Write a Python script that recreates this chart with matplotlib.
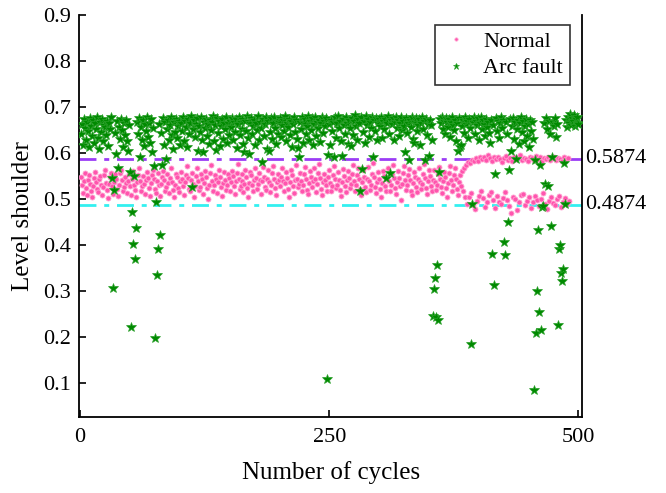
import matplotlib
matplotlib.use("Agg")
import matplotlib.pyplot as plt
import numpy as np

# ---- data (values in thousandths) ----
normal_1 = [547,531,512,538,556,524,509,541,552,533,518,505,528,546,559,537,521,514,543,549,
            530,508,526,551,562,535,519,502,532,548,556,527,511,536,553,544,522,506,529,557,
            563,540,516,525,547,534,513,538,555,528,
            509,543,560,531,520,504,537,551,566,539,517,527,549,532,511,541,558,546,523,507,
            534,552,563,544,521,513,538,556,529,506,533,548,561,540,518,526,553,535,512,545,
            566,537,520,503,530,554,547,524,515,539]
normal_2 = [558,542,527,509,536,551,571,545,522,516,540,557,533,505,528,549,568,538,519,526,
            553,542,511,535,560,547,523,500,531,556,573,539,517,529,552,544,513,537,562,548,
            525,507,534,558,541,520,530,555,546,518,
            536,561,549,527,510,539,557,575,543,521,528,554,538,514,532,563,547,524,503,535,
            559,551,529,517,541,566,545,522,533,556,540,511,538,570,548,526,519,543,562,537,
            515,531,557,572,544,523,508,536,553,541]
normal_3 = [527,548,568,539,516,534,559,546,521,505,537,562,551,528,513,540,574,544,525,532,
            556,538,517,529,553,569,543,520,511,535,561,548,526,539,566,542,514,533,557,575,
            546,522,509,537,555,540,529,518,547,563,
            535,516,528,552,571,544,523,530,558,541,519,507,536,564,549,527,514,540,560,545,
            524,533,555,573,538,517,529,551,566,542,521,509,537,562,547,526,515,543,570,539,
            520,531,554,577,548,525,512,536,559,544]
normal_4 = [522,505,534,561,549,528,518,542,567,538,516,530,553,574,545,524,511,537,560,546,
            527,498,533,556,571,541,519,529,552,565,540,517,508,535,558,548,526,514,543,568,
            537,521,532,555,576,545,523,510,539,562,
            549,528,516,541,563,536,519,531,554,570,544,525,512,538,559,547,524,503,534,557,
            572,540,518,529,551,566,543,521,509,537]
normal_upper = [552,561,568,574,580,577,585,582,589,583,591,586,590,584,595,588,582,590,586,592,
                587,581,589,594,585,588,583,591,586,590,596,584,589,587,582,591,588,585,593,587,
                590,583,589,586,592,584,588,591,585,589,587,583,590,586,588]
normal_lower = [528,517,504,489,503,512,486,478,495,507,518,501,483,492,509,514,498,480,506,493,
                488,502,515,497,484,470,505,499,476,494,508,511,487,496,503,481,492,506,498,485,
                500,513,489,478,495,504,491,486,499,507,483,494,502,488,496]

arc_1 = [641,662,618,673,655,629,668,647,612,676,659,636,671,622,664,651,679,633,608,667,
         645,674,626,661,657,639,670,615,664,652,677,546,305,520,643,598,669,568,656,631,
         674,649,612,666,638,672,625,604,660,558,
         222,472,402,550,369,436,668,642,675,592,657,629,671,614,663,648,678,635,666,621,
         673,601,654,571,196,494,335,391,662,422,644,574,676,618,667,586,652,672,627,661,
         679,639,609,668,646,674,632,658,670,616]
arc_2 = [665,648,677,626,669,657,612,673,641,666,680,525,652,671,634,663,675,603,659,645,
         678,629,601,668,655,674,637,662,619,672,649,667,681,625,660,606,676,643,669,614,
         658,673,631,665,651,679,622,664,638,670,
         656,676,628,668,645,673,611,662,679,639,667,652,674,620,602,670,647,681,633,598,
         664,676,642,658,671,616,666,650,680,627,668,655,580,673,636,662,677,609,669,603,
         646,675,631,664,679,653,619,670,641,667]
arc_3 = [676,634,661,672,648,680,625,666,657,674,639,669,613,663,678,645,671,630,610,591,
         668,652,677,621,664,673,640,659,681,628,670,649,675,617,662,678,636,667,655,672,
         624,665,679,643,669,658,676,108,596,663,
         616,672,647,668,590,677,633,664,681,655,670,626,594,674,661,642,679,666,619,671,
         653,615,676,638,669,683,658,629,673,664,516,677,565,645,670,622,680,660,673,635,
         667,654,678,592,671,648,676,627,665,673]
arc_4 = [659,677,633,669,652,674,546,666,680,641,556,671,662,675,628,668,679,655,672,637,
         666,677,649,670,658,601,675,643,664,585,672,656,679,631,622,668,676,647,661,673,
         618,666,678,652,670,585,674,638,663,593,
         671,660,627,246,303,327,242,357,237,558,674,665,679,652,670,641,676,668,657,673,
         634,667,678,661,649,672,625,666,603,675,612,618,658,671,644,677,663,669,632,674,
         655,185,488,667,679,640,670,660,675,628]
arc_5 = [666,677,651,671,662,637,674,657,668,643,622,672,380,661,313,554,676,648,669,633,
         664,678,655,671,407,378,667,640,449,562,673,603,659,676,631,668,587,652,672,619,
         664,677,645,669,626,658,673,637,662,613,
         671,648,667,630,83,585,208,299,433,254,574,215,483,485,664,532,675,652,527,670,
         641,440,591,668,659,676,634,663,226,391,400,338,321,347,578,488,672,657,679,666,
         684,661,675,669,682,658,673,665,677,662]

threshold_high = 0.5874
threshold_low = 0.4874
x_ticks = [0, 250, 500]
y_ticks = [0.1, 0.2, 0.3, 0.4, 0.5, 0.6, 0.7, 0.8, 0.9]

# ---- assemble ----
normal_tail = []
for u, l in zip(normal_upper, normal_lower):
    normal_tail += [u, l]
normal = np.array(normal_1 + normal_2 + normal_3 + normal_4 + normal_tail) / 1000.0
arc = np.array(arc_1 + arc_2 + arc_3 + arc_4 + arc_5) / 1000.0
xn = np.arange(1, len(normal) + 1)
xa = np.arange(1, len(arc) + 1)

plt.rcParams['font.family'] = ['Liberation Serif', 'DejaVu Serif']
plt.rcParams['mathtext.fontset'] = 'stix'

fig = plt.figure(figsize=(6.66, 4.93), dpi=100)
ax = fig.add_axes([0.1186, 0.154, 0.756, 0.8156])

ax.plot(xn, normal, linestyle='none', marker='o', markersize=3.6,
        markerfacecolor='#ff55ae', markeredgecolor='#ffa0d0', markeredgewidth=0.6,
        label='Normal', zorder=3)
ax.plot(xa, arc, linestyle='none', marker='*', markersize=7.0,
        markerfacecolor='#008a00', markeredgecolor='#2aa02a', markeredgewidth=0.5,
        label='Arc fault', zorder=4)

dash = (0, (6.1, 2.8, 1.8, 2.8))
ax.axhline(threshold_high, color='#9b3cf5', lw=2.0, linestyle=dash, zorder=2)
ax.axhline(threshold_low, color='#33f0f0', lw=2.0, linestyle=dash, zorder=2)

ax.text(1.005, threshold_high, f'{threshold_high:.4f}', transform=ax.get_yaxis_transform(),
        va='center', ha='left', fontsize=16)
ax.text(1.005, threshold_low, f'{threshold_low:.4f}', transform=ax.get_yaxis_transform(),
        va='center', ha='left', fontsize=16)

ax.set_xlim(-1, 504)
ax.set_ylim(0.025, 0.9)
ax.set_xticks(x_ticks)
ax.set_yticks(y_ticks)
ax.set_yticklabels([f'{v:.1f}' for v in y_ticks])
ax.tick_params(direction='in', labelsize=16, length=5, width=1.2, pad=6)
ax.tick_params(axis='x', pad=8)
for s in ['left', 'bottom', 'right']:
    ax.spines[s].set_linewidth(1.3)
ax.spines['top'].set_visible(False)

ax.set_xlabel('Number of cycles', fontsize=18, labelpad=10)
ax.set_ylabel('Level shoulder', fontsize=18, labelpad=6)

leg = ax.legend(loc='upper right', bbox_to_anchor=(0.975, 0.975), fontsize=16,
                frameon=True, fancybox=False, edgecolor='black', markerscale=0.65,
                handlelength=1.3, handletextpad=0.6, borderpad=0.3, labelspacing=0.25,
                borderaxespad=0.0)
leg.get_frame().set_linewidth(1.2)

fig.savefig('out.png', dpi=100)
